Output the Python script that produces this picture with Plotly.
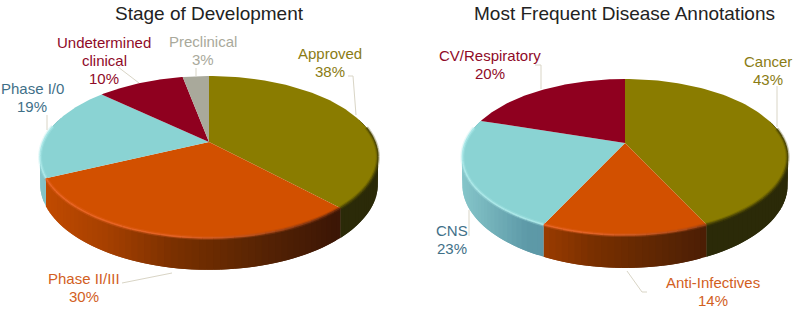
import numpy as np
import plotly.graph_objects as go

# Stage of Development
stage_labels = ["Approved", "Phase II/III", "Phase I/0", "Undetermined<br>clinical", "Preclinical"]
stage_values = [38, 30, 19, 10, 3]

# Most Frequent Disease Annotations
disease_labels = ["Cancer", "Anti-Infectives", "CNS", "CV/Respiratory"]
disease_values = [43, 14, 23, 20]

OLIVE = "#8a7c00"
ORANGE = "#d25000"
CYAN = "#8ad3d3"
CRIMSON = "#8f001f"
GREY = "#a9a99b"

# colour stops along the wall, by position across the pie (-1 left, 1 right)
WALL_X = [-1.0, -0.6, -0.2, 0.3, 0.75, 1.0]
WALLS = {
    OLIVE: ["#2b2a08"] * 6,
    ORANGE: ["#c44c00", "#a64000", "#7a3000", "#582404", "#3c1606", "#3c1606"],
    CYAN: ["#86c6ca", "#5e9aa8", "#5a95a4", "#5a95a4", "#5a95a4", "#5a95a4"],
    CRIMSON: ["#5a0014"] * 6,
    GREY: ["#666660"] * 6,
}
RIMS = {
    OLIVE: ["#4e4804"] * 6,
    ORANGE: ["#ea6626", "#ea6626", "#e46428", "#b8501c", "#6a2a0c", "#4a1e0a"],
    CYAN: ["#aeeaea", "#aeeaea", "#a8e6e6", "#a8e6e6", "#a8e6e6", "#a8e6e6"],
    CRIMSON: ["#8f001f"] * 6,
    GREY: ["#a9a99b"] * 6,
}


def hex_rgb(c):
    return np.array([int(c[i:i + 2], 16) for i in (1, 3, 5)], dtype=float)


def stop_colour(stops, x):
    rgb = [np.interp(x, WALL_X, [hex_rgb(s)[i] for s in stops]) for i in range(3)]
    return "rgb(%d,%d,%d)" % tuple(rgb)


def project(theta, pie, drop=0.0):
    # perspective view of a flat disc, theta clockwise from the back of the pie
    u, v = np.sin(theta), np.cos(theta)
    d = 1 + pie["k"] * v
    return pie["cx"] + pie["f"] * u / d, pie["cy"] - pie["a"] * v / d + drop * pie["h"] / d


def add_poly(fig, x, y, colour):
    fig.add_trace(go.Scatter(x=x, y=y, mode="lines", fill="toself", fillcolor=colour,
                             line=dict(color=colour, width=0), hoverinfo="skip"))


def draw_pie(fig, values, colours, pie):
    edges = np.cumsum([0] + values) / sum(values) * 2 * np.pi
    # side wall first, the top covers whatever faces away
    for start, end, colour in zip(edges[:-1], edges[1:], colours):
        n = max(2, int(np.degrees(end - start) / 2))
        th = np.linspace(start, end, n + 1)
        step = th[1] - th[0]
        for a in th[:-1]:
            b = min(a + 2 * step, end)  # overlap the next strip so no seam shows
            if np.cos(a + step / 2) > 0.3:
                continue
            x0, y0 = project(a, pie)
            x1, y1 = project(b, pie)
            x2, y2 = project(b, pie, 1)
            x3, y3 = project(a, pie, 1)
            pos = (project(a + step / 2, pie)[0] - pie["cx"]) / pie["rx"]
            add_poly(fig, [x0, x1, x2, x3, x0], [y0, y1, y2, y3, y0], stop_colour(WALLS[colour], pos))
    for start, end, colour in zip(edges[:-1], edges[1:], colours):
        th = np.linspace(start, end, 90)
        x, y = project(th, pie)
        add_poly(fig, np.r_[pie["cx"], x, pie["cx"]], np.r_[pie["cy"], y, pie["cy"]], colour)
    # bevel along the front edge, a soft wide pass and a sharper one
    for width, alpha in [(4.0, 0.3), (1.6, 0.9)]:
        for start, end, colour in zip(edges[:-1], edges[1:], colours):
            n = max(2, int(np.degrees(end - start) / 3))
            th = np.linspace(start, end, n + 1)
            for a, b in zip(th[:-1], th[1:]):
                if np.cos((a + b) / 2) > 0.2:
                    continue
                xs, ys = project(np.array([a, b]), pie)
                pos = (xs.mean() - pie["cx"]) / pie["rx"]
                fig.add_trace(go.Scatter(x=xs, y=ys, mode="lines", hoverinfo="skip", opacity=alpha,
                                         line=dict(color=stop_colour(RIMS[colour], pos), width=width)))


fig = go.Figure()

left_pie = dict(cx=209, cy=142, rx=169, f=166, a=78.2, k=0.185, h=26)
right_pie = dict(cx=625, cy=143, rx=163, f=160, a=75.5, k=0.18, h=27)
draw_pie(fig, stage_values, [OLIVE, ORANGE, CYAN, CRIMSON, GREY], left_pie)
draw_pie(fig, disease_values, [OLIVE, ORANGE, CYAN, CRIMSON], right_pie)

# leader lines
LEADER = "#d9d5c6"
for lx, ly in [([348, 353, 356], [76, 76, 115]), ([196, 196], [68, 76]), ([118, 139], [67, 83]),
               ([47, 47], [115, 130]), ([122, 172], [283, 273]),
               ([535, 541, 541], [65, 65, 89]), ([777, 777], [86, 127]), ([469, 469], [210, 236]),
               ([647, 642, 627], [292, 292, 271])]:
    fig.add_trace(go.Scatter(x=lx, y=ly, mode="lines", line=dict(color=LEADER, width=1), hoverinfo="skip"))


def label(text, value, x, y, colour):
    # one annotation per line, plotly's own line height is too loose here
    lines = text.split("<br>") + ["%d%%" % value]
    for i, line in enumerate(lines):
        fig.add_annotation(x=x, y=y + i * 18, text=line, showarrow=False,
                           font=dict(family="Liberation Sans", size=15, color=colour))


label(stage_labels[0], stage_values[0], 330, 53, "#8a7c14")
label(stage_labels[1], stage_values[1], 84, 278, "#d2601e")
label(stage_labels[2], stage_values[2], 32, 88, "#3f7088")
label(stage_labels[3], stage_values[3], 104, 42, "#8f0a28")
label(stage_labels[4], stage_values[4], 203, 41, "#a9a99b")
label(disease_labels[0], disease_values[0], 768, 61, "#8a7c14")
label(disease_labels[1], disease_values[1], 713, 282, "#d2601e")
label(disease_labels[2], disease_values[2], 452, 230, "#3f7088")
label(disease_labels[3], disease_values[3], 490, 55, "#8f0a28")

for text, x in [("Stage of Development", 209), ("Most Frequent Disease Annotations", 624)]:
    fig.add_annotation(x=x, y=13, text=text, showarrow=False,
                       font=dict(family="Liberation Sans", size=19, color="#222222"))

fig.update_layout(width=796, height=309, margin=dict(l=0, r=0, t=0, b=0), showlegend=False,
                  paper_bgcolor="white", plot_bgcolor="white",
                  xaxis=dict(range=[0, 796], visible=False),
                  yaxis=dict(range=[309, 0], visible=False))
fig.write_html("out.html", config=dict(displayModeBar=False), post_script="document.body.style.margin='0';")
